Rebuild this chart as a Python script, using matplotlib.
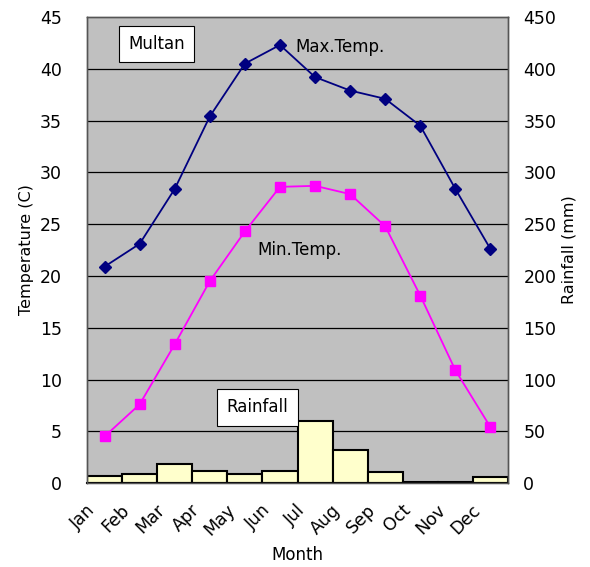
import matplotlib
matplotlib.use("Agg")
import matplotlib.pyplot as plt
import matplotlib.transforms as mtransforms
import numpy as np

months = ["Jan", "Feb", "Mar", "Apr", "May", "Jun", "Jul", "Aug", "Sep", "Oct", "Nov", "Dec"]
max_temp = [20.9, 23.1, 28.4, 35.4, 40.5, 42.3, 39.2, 37.9, 37.1, 34.5, 28.4, 22.6]
min_temp = [4.5, 7.6, 13.4, 19.5, 24.3, 28.6, 28.7, 27.9, 24.8, 18.1, 10.9, 5.4]
rainfall = [6.5, 8.7, 18.4, 12.0, 8.7, 12.0, 60.3, 32.3, 10.6, 1.2, 1.2, 5.5]
temp_ticks = list(range(0, 50, 5))
rain_ticks = list(range(0, 500, 50))

plt.rcParams['font.family'] = ['DejaVu Sans']

fig = plt.figure(figsize=(5.9, 5.67), dpi=100)
ax = fig.add_axes([0.1475, 0.148, 0.7135, 0.822])
ax2 = ax.twinx()

x = np.arange(len(months))

# rainfall bars on right axis
ax2.bar(x, rainfall, width=1.0, color='#ffffcc', edgecolor='black', linewidth=1.5, zorder=2)
ax2.set_ylim(0, 450)
ax2.set_yticks(rain_ticks)
ax2.tick_params(axis='y', length=0, labelsize=12.5, pad=11)
ax2.set_ylabel("Rainfall (mm)", fontsize=11.5, labelpad=4)

ax.set_zorder(ax2.get_zorder() + 1)
ax.patch.set_visible(False)
ax2.set_facecolor('#c0c0c0')
ax2.patch.set_visible(True)

ax.set_ylim(0, 45)
ax.set_xlim(-0.5, 11.5)
ax.set_yticks(temp_ticks)
for t in temp_ticks[1:-1]:
    ax2.axhline(t * 10, color='black', linewidth=0.9, zorder=1)

ax.plot(x, max_temp, color='#000080', marker='D', markersize=6.5, linewidth=1.3, zorder=3)
ax.plot(x, min_temp, color='#ff00ff', marker='s', markersize=7.5, linewidth=1.3, zorder=3)

ax.set_xticks(x)
ax.set_xticklabels(months, rotation=45, ha='right', rotation_mode='anchor', fontsize=12.5)
ax.tick_params(axis='x', length=0, pad=13)
offset = mtransforms.ScaledTranslation(-19 / 100, 0, fig.dpi_scale_trans)
for lbl in ax.get_xticklabels():
    lbl.set_transform(lbl.get_transform() + offset)
ax.tick_params(axis='y', length=0, labelsize=12.5, pad=18)
ax.set_ylabel("Temperature (C)", fontsize=11.5, labelpad=4)
ax.set_xlabel("Month", fontsize=12, labelpad=5)

for a in (ax, ax2):
    for s in a.spines.values():
        s.set_color('#555555')
        s.set_linewidth(1.0)
ax2.spines['bottom'].set_color('black')
ax2.spines['bottom'].set_linewidth(1.5)

ax.text(1.48, 42.4, "Multan", fontsize=12, ha='center', va='center',
        bbox=dict(boxstyle='square,pad=0.55', facecolor='white', edgecolor='black', linewidth=0.8), zorder=5)
ax.text(5.43, 42.1, "Max.Temp.", fontsize=12, ha='left', va='center', zorder=5)
ax.text(4.35, 22.5, "Min.Temp.", fontsize=12, ha='left', va='center', zorder=5)
ax.text(4.36, 7.3, "Rainfall", fontsize=12, ha='center', va='center',
        bbox=dict(boxstyle='square,pad=0.55', facecolor='white', edgecolor='black', linewidth=0.8), zorder=5)

fig.savefig("out.png", dpi=100)
